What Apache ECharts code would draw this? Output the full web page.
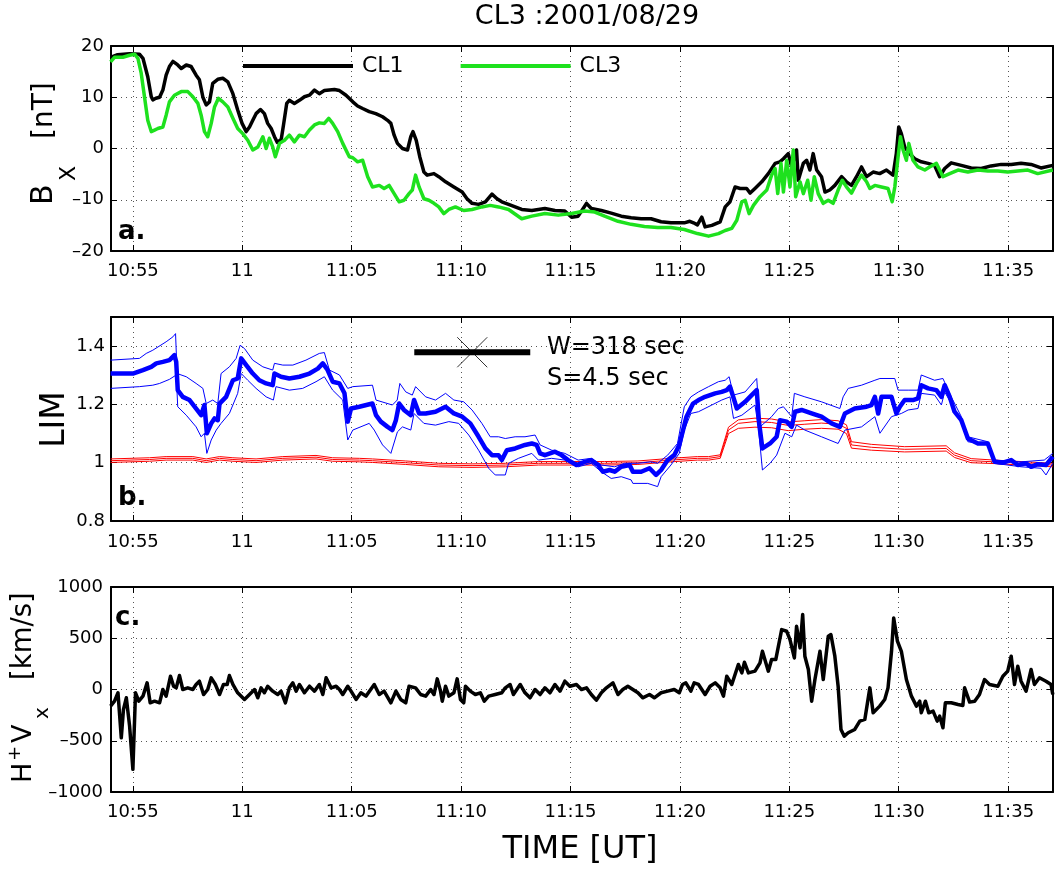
<!DOCTYPE html>
<html><head><meta charset="utf-8">
<script src="https://cdn.jsdelivr.net/npm/echarts@6/dist/echarts.min.js"></script>
<style>html,body{margin:0;padding:0;background:#fff}#c{width:1056px;height:870px}</style>
</head><body><div id="c"></div><script>
// time = minutes after 10:00 UT
const xTickMinutes = [55,60,65,70,75,80,85,90,95];
const bxTicks = [-20,-10,0,10,20];
const limTicks = [0.8,1.0,1.2,1.4];
const vxTicks = [-1000,-500,0,500,1000];
const legendNames = ['CL1','CL3'];

const cl1Bx = [[53.98,17.8],[54.3,18.3],[54.85,18.5],[55.3,18.4],[55.46,17.6],[55.68,14.0],[55.84,10.1],[55.91,9.5],[56.05,9.8],[56.22,10.0],[56.37,11.4],[56.52,14.3],[56.67,16.0],[56.83,17.0],[57.05,16.3],[57.21,15.6],[57.44,16.3],[57.66,16.0],[57.89,14.3],[58.04,13.4],[58.2,10.0],[58.35,8.5],[58.5,9.1],[58.65,12.7],[58.88,13.5],[59.11,13.7],[59.34,13.0],[59.57,10.7],[59.79,7.5],[59.99,4.9],[60.18,3.3],[60.33,4.2],[60.48,5.5],[60.63,6.8],[60.83,7.6],[61.01,6.8],[61.16,4.9],[61.32,3.9],[61.47,2.3],[61.6,1.2],[61.78,1.8],[61.88,4.5],[62.03,8.8],[62.15,9.4],[62.38,8.8],[62.61,9.4],[62.84,10.1],[63.07,10.4],[63.3,11.4],[63.52,10.7],[63.75,11.3],[63.98,11.4],[64.21,11.5],[64.44,11.3],[64.74,10.4],[65.05,9.1],[65.27,8.3],[65.5,7.8],[65.8,7.2],[66.1,6.8],[66.41,6.2],[66.64,5.5],[66.79,4.9],[66.94,2.6],[67.09,1.0],[67.32,0.0],[67.55,-0.3],[67.7,2.3],[67.8,3.3],[67.95,1.6],[68.11,-1.6],[68.3,-4.6],[68.45,-5.2],[68.76,-4.9],[68.98,-5.5],[69.29,-6.5],[69.67,-7.5],[70.05,-8.5],[70.27,-9.8],[70.5,-10.7],[70.8,-10.9],[71.11,-10.4],[71.41,-8.9],[71.64,-9.8],[71.86,-10.4],[72.17,-10.9],[72.47,-11.4],[72.77,-11.9],[73.23,-12.1],[73.83,-11.7],[74.29,-12.1],[74.74,-12.2],[75.05,-13.4],[75.35,-13.2],[75.58,-11.7],[75.73,-10.7],[75.95,-11.7],[76.41,-12.1],[76.86,-12.6],[77.32,-13.2],[77.77,-13.5],[78.23,-13.7],[78.68,-13.7],[79.14,-14.3],[79.59,-14.5],[80.2,-14.5],[80.45,-14.2],[80.62,-14.5],[80.8,-14.9],[81.0,-13.4],[81.15,-15.3],[81.46,-15.0],[81.84,-14.3],[82.07,-11.4],[82.29,-10.4],[82.52,-7.5],[82.75,-7.8],[83.05,-7.8],[83.21,-8.7],[83.43,-7.8],[83.74,-6.5],[84.04,-4.9],[84.35,-2.9],[84.57,-2.6],[84.73,-2.0],[84.95,-1.0],[85.11,-3.6],[85.33,-0.3],[85.41,-6.2],[85.64,-2.9],[85.79,-2.3],[85.94,-4.2],[86.09,-1.0],[86.25,-4.2],[86.47,-5.5],[86.63,-8.5],[86.85,-8.1],[87.08,-7.2],[87.39,-5.5],[87.61,-6.5],[87.84,-7.2],[88.07,-5.5],[88.3,-3.6],[88.53,-5.5],[88.83,-4.6],[89.13,-4.9],[89.44,-4.2],[89.74,-5.2],[89.89,-1.0],[90.0,4.2],[90.12,2.9],[90.27,0.3],[90.5,-1.0],[90.73,-2.0],[91.03,-2.6],[91.34,-2.9],[91.64,-3.3],[91.87,-5.5],[92.1,-3.9],[92.4,-2.8],[92.86,-3.3],[93.31,-3.8],[93.77,-3.9],[94.22,-3.4],[94.68,-3.1],[95.14,-3.1],[95.59,-2.9],[96.05,-3.1],[96.5,-3.8],[97.04,-3.3]];

const cl3Bx = [[53.98,16.9],[54.16,17.8],[54.54,17.8],[54.85,18.2],[55.08,18.4],[55.23,17.6],[55.38,14.7],[55.53,10.1],[55.68,5.5],[55.84,3.3],[55.99,3.6],[56.14,3.9],[56.37,4.2],[56.52,6.5],[56.67,9.1],[56.9,10.4],[57.21,11.1],[57.51,11.1],[57.74,10.1],[57.97,8.8],[58.12,6.5],[58.27,3.3],[58.42,2.3],[58.58,4.9],[58.73,8.1],[58.91,9.8],[59.11,9.1],[59.34,8.1],[59.57,5.9],[59.79,3.9],[60.02,2.9],[60.25,1.6],[60.48,-0.3],[60.71,0.3],[60.94,2.3],[61.09,0.0],[61.24,2.0],[61.39,0.3],[61.51,-1.6],[61.7,1.0],[61.93,1.6],[62.15,2.6],[62.38,1.3],[62.61,2.6],[62.84,2.3],[63.07,3.6],[63.3,4.6],[63.52,5.0],[63.75,4.9],[63.95,5.9],[64.13,4.9],[64.36,3.3],[64.59,1.0],[64.89,-1.6],[65.05,-1.8],[65.27,-2.6],[65.5,-2.3],[65.73,-5.5],[65.95,-7.5],[66.26,-7.2],[66.48,-7.8],[66.71,-7.2],[66.94,-8.8],[67.17,-10.4],[67.39,-10.1],[67.62,-8.8],[67.77,-8.1],[67.92,-5.2],[68.08,-7.5],[68.3,-9.8],[68.53,-10.1],[68.76,-10.7],[68.98,-11.4],[69.21,-12.7],[69.44,-11.9],[69.74,-11.4],[70.12,-12.1],[70.5,-11.9],[70.95,-11.4],[71.33,-11.1],[71.71,-11.4],[72.17,-11.9],[72.77,-13.7],[73.23,-13.2],[73.83,-12.7],[74.44,-13.0],[75.05,-12.7],[75.65,-12.2],[76.11,-12.4],[76.56,-13.2],[77.17,-14.2],[77.77,-14.8],[78.38,-15.2],[78.98,-15.4],[79.59,-15.4],[80.2,-15.8],[80.8,-16.6],[81.31,-17.1],[81.76,-16.6],[82.07,-16.0],[82.37,-15.6],[82.6,-14.0],[82.83,-10.4],[82.98,-10.1],[83.16,-12.7],[83.36,-11.1],[83.66,-9.4],[83.97,-8.1],[84.19,-5.2],[84.35,-3.9],[84.47,-8.8],[84.62,-2.9],[84.73,-8.5],[84.88,-2.3],[85.03,-7.5],[85.18,-0.3],[85.29,-9.4],[85.49,-6.5],[85.64,-8.8],[85.84,-6.2],[85.99,-10.1],[86.14,-5.5],[86.32,-8.8],[86.55,-10.7],[86.78,-10.1],[87.0,-10.7],[87.23,-8.1],[87.42,-6.2],[87.61,-7.5],[87.84,-8.7],[88.07,-6.8],[88.3,-5.2],[88.53,-6.5],[88.68,-7.8],[88.91,-7.2],[89.21,-7.5],[89.51,-7.8],[89.7,-10.4],[89.82,-7.5],[89.97,-1.6],[90.08,2.3],[90.2,-0.3],[90.35,-2.3],[90.46,1.0],[90.65,-2.3],[90.88,-3.6],[91.19,-4.2],[91.41,-3.6],[91.72,-2.9],[92.02,-5.5],[92.33,-4.9],[92.71,-4.2],[93.16,-4.6],[93.62,-4.2],[94.07,-4.4],[94.53,-4.4],[94.98,-4.6],[95.44,-4.4],[95.9,-4.2],[96.35,-4.9],[97.04,-4.2]];

const limBlue = [[53.98,1.306],[55,1.306],[55.46,1.318],[55.84,1.329],[56.07,1.341],[56.37,1.346],[56.67,1.352],[56.9,1.369],[56.98,1.346],[57.05,1.249],[57.28,1.226],[57.59,1.215],[57.89,1.186],[58.12,1.163],[58.27,1.198],[58.38,1.101],[58.58,1.135],[58.73,1.152],[58.88,1.146],[58.96,1.203],[59.26,1.226],[59.57,1.283],[59.79,1.289],[59.95,1.358],[60.18,1.335],[60.48,1.306],[60.78,1.283],[61.09,1.272],[61.39,1.266],[61.47,1.306],[61.77,1.295],[62.15,1.289],[62.61,1.295],[63.07,1.306],[63.45,1.323],[63.68,1.341],[63.9,1.318],[64.13,1.278],[64.44,1.272],[64.67,1.238],[64.82,1.141],[64.97,1.186],[65.35,1.192],[65.95,1.203],[66.11,1.163],[66.33,1.141],[66.64,1.123],[66.86,1.112],[67.02,1.146],[67.17,1.203],[67.39,1.181],[67.7,1.163],[67.85,1.215],[68.08,1.169],[68.38,1.169],[68.83,1.175],[69.29,1.192],[69.67,1.169],[70.05,1.158],[70.42,1.135],[70.8,1.089],[71.11,1.049],[71.41,1.026],[71.71,1.026],[71.86,1.009],[72.09,1.043],[72.47,1.049],[72.92,1.061],[73.23,1.066],[73.45,1.061],[73.61,1.032],[73.83,1.026],[74.29,1.038],[74.59,1.026],[74.89,1.009],[75.27,0.992],[75.65,1.003],[75.95,1.009],[76.26,0.992],[76.48,0.969],[76.79,0.975],[77.02,0.969],[77.32,0.986],[77.7,0.992],[77.85,0.969],[78.23,0.969],[78.61,0.981],[78.91,0.958],[79.14,0.975],[79.44,1.009],[79.74,1.026],[79.97,1.061],[80.3,1.158],[80.6,1.203],[80.85,1.215],[81.15,1.226],[81.61,1.238],[81.91,1.243],[82.14,1.249],[82.29,1.261],[82.6,1.186],[82.98,1.209],[83.28,1.232],[83.51,1.249],[83.62,1.135],[83.77,1.049],[84.12,1.066],[84.42,1.089],[84.57,1.146],[84.88,1.141],[85.11,1.123],[85.26,1.175],[85.56,1.181],[86.02,1.169],[86.47,1.158],[86.93,1.135],[87.31,1.123],[87.54,1.169],[87.99,1.186],[88.53,1.192],[88.75,1.198],[88.91,1.226],[89.06,1.169],[89.21,1.226],[89.67,1.226],[89.89,1.169],[90.05,1.192],[90.27,1.215],[90.65,1.215],[90.88,1.221],[91.03,1.266],[91.34,1.255],[91.72,1.249],[91.95,1.226],[92.1,1.266],[92.33,1.226],[92.55,1.175],[92.86,1.146],[93.16,1.083],[93.62,1.066],[94.07,1.066],[94.38,1.003],[94.76,1.0],[95.14,1.009],[95.44,0.992],[95.82,0.998],[96.05,0.986],[96.35,0.995],[96.73,0.992],[97.04,1.021]];

const limBlueUpper = [[53.98,1.352],[55.3,1.358],[55.61,1.375],[55.91,1.386],[56.52,1.415],[56.83,1.432],[56.95,1.443],[57.02,1.306],[57.44,1.295],[57.89,1.272],[58.2,1.255],[58.35,1.203],[58.65,1.215],[58.88,1.203],[59.03,1.306],[59.41,1.329],[59.72,1.358],[59.9,1.403],[60.1,1.392],[60.48,1.352],[60.94,1.329],[61.39,1.318],[61.47,1.341],[61.85,1.335],[62.31,1.335],[62.91,1.352],[63.52,1.375],[63.75,1.378],[63.98,1.318],[64.44,1.301],[64.82,1.255],[65.05,1.261],[65.95,1.266],[66.11,1.215],[66.86,1.198],[67.08,1.215],[67.2,1.272],[67.47,1.243],[67.77,1.232],[67.92,1.261],[68.38,1.226],[68.83,1.215],[69.29,1.238],[69.67,1.215],[70.12,1.209],[70.5,1.181],[70.95,1.135],[71.33,1.089],[71.71,1.089],[72.02,1.083],[72.47,1.089],[72.92,1.089],[73.38,1.095],[73.61,1.061],[74.14,1.043],[74.74,1.032],[75.35,1.009],[75.95,1.015],[76.41,0.992],[77.02,0.986],[77.47,0.998],[78.08,0.998],[78.68,1.003],[78.98,0.998],[79.44,1.026],[79.89,1.066],[80.2,1.192],[80.5,1.226],[80.85,1.243],[81.31,1.261],[81.76,1.278],[82.07,1.283],[82.25,1.295],[82.45,1.232],[82.98,1.243],[83.51,1.289],[83.66,1.123],[84.19,1.158],[84.5,1.186],[84.73,1.192],[85.11,1.158],[85.23,1.238],[85.71,1.226],[86.47,1.209],[87.31,1.186],[87.46,1.226],[87.69,1.255],[88.3,1.266],[88.91,1.283],[89.14,1.289],[89.82,1.289],[89.97,1.249],[90.43,1.249],[90.88,1.249],[91.03,1.301],[91.64,1.283],[92.02,1.289],[92.4,1.226],[92.86,1.158],[93.16,1.089],[94.07,1.072],[94.38,1.009],[95.59,1.003],[96.65,1.009],[97.04,1.032]];

const limBlueLower = [[53.98,1.255],[55.3,1.261],[55.91,1.266],[56.22,1.272],[56.67,1.286],[56.98,1.301],[57.05,1.192],[57.44,1.163],[57.89,1.123],[58.12,1.089],[58.27,1.101],[58.38,1.032],[58.58,1.078],[58.81,1.112],[59.03,1.135],[59.41,1.169],[59.79,1.238],[59.95,1.306],[60.25,1.283],[60.63,1.255],[61.09,1.226],[61.42,1.215],[61.54,1.261],[62.15,1.249],[62.76,1.255],[63.37,1.278],[63.75,1.295],[64.13,1.249],[64.59,1.215],[64.82,1.078],[65.05,1.112],[65.8,1.135],[66.03,1.112],[66.41,1.061],[66.79,1.032],[67.09,1.106],[67.32,1.123],[67.7,1.112],[67.85,1.169],[68.3,1.135],[68.83,1.129],[69.44,1.141],[69.89,1.135],[70.35,1.095],[70.8,1.043],[71.26,0.981],[71.56,0.958],[72.02,0.958],[72.17,0.998],[72.62,1.015],[73.23,1.032],[73.53,1.009],[74.14,1.015],[74.74,1.009],[75.35,0.986],[75.95,0.998],[76.41,0.969],[76.86,0.946],[77.32,0.952],[77.77,0.941],[77.85,0.929],[78.53,0.929],[78.98,0.918],[79.14,0.952],[79.59,0.992],[79.97,1.032],[80.2,1.112],[80.5,1.169],[80.85,1.175],[81.46,1.198],[81.91,1.215],[82.29,1.226],[82.45,1.152],[82.83,1.163],[83.43,1.198],[83.59,1.118],[83.77,0.975],[84.12,0.998],[84.42,1.026],[84.8,1.101],[85.11,1.089],[85.33,1.129],[85.71,1.112],[86.47,1.089],[87.23,1.066],[87.54,1.112],[88.3,1.123],[88.91,1.158],[89.14,1.101],[89.67,1.158],[90.12,1.169],[90.43,1.181],[90.88,1.186],[91.03,1.238],[91.64,1.232],[91.95,1.198],[92.1,1.243],[92.4,1.203],[92.86,1.135],[93.16,1.072],[94.07,1.061],[94.38,0.998],[95.59,0.986],[96.5,0.981],[96.73,0.958],[97.04,0.998]];

const redTime = [53.98,55.76,56.52,57.74,58.35,58.96,59.57,60.63,61.85,63.37,64.13,65.35,65.95,67.47,68.98,70.5,72.02,73.53,75.05,76.56,78.08,79.59,80.8,81.31,81.84,82.22,82.67,83.43,84.19,84.95,85.71,86.47,87.23,87.61,87.84,88.75,90.27,92.17,92.55,93.31,94.38,95.59,97.04];
const limRedMid = [1.007,1.011,1.015,1.015,1.007,1.015,1.011,1.007,1.015,1.019,1.011,1.009,1.007,1.0,0.992,0.990,0.992,0.998,0.998,0.998,1.0,1.009,1.015,1.015,1.021,1.112,1.135,1.141,1.138,1.128,1.132,1.136,1.132,1.118,1.061,1.053,1.046,1.049,1.026,1.007,1.003,0.998,0.992];
const limRedUpper = [1.013,1.017,1.021,1.021,1.013,1.021,1.017,1.013,1.021,1.025,1.017,1.015,1.013,1.006,0.998,0.996,0.998,1.004,1.004,1.004,1.006,1.015,1.021,1.021,1.027,1.122,1.147,1.153,1.150,1.140,1.144,1.148,1.144,1.130,1.072,1.063,1.055,1.058,1.034,1.014,1.009,1.004,0.998];
const limRedLower = [1.001,1.005,1.009,1.009,1.001,1.009,1.005,1.001,1.009,1.013,1.005,1.003,1.001,0.994,0.986,0.984,0.986,0.992,0.992,0.992,0.994,1.003,1.009,1.009,1.015,1.100,1.118,1.122,1.120,1.110,1.115,1.118,1.115,1.100,1.050,1.043,1.037,1.040,1.018,1.000,0.997,0.992,0.986];

const hVx = [[53.98,-162],[54.16,-114],[54.32,-32],[54.47,-471],[54.57,-195],[54.7,-81],[54.85,-357],[55.0,-779],[55.12,-32],[55.27,-114],[55.46,-65],[55.65,65],[55.79,-130],[55.99,-114],[56.22,-130],[56.37,0],[56.52,-65],[56.72,130],[56.86,32],[56.98,16],[57.13,136],[57.28,0],[57.51,16],[57.74,0],[57.89,49],[58.04,81],[58.23,-49],[58.42,0],[58.58,114],[58.77,49],[58.96,-49],[59.14,49],[59.31,49],[59.41,136],[59.57,49],[59.79,-32],[60.1,-97],[60.33,-49],[60.56,0],[60.71,-81],[60.86,16],[61.01,-32],[61.16,32],[61.39,-16],[61.62,-49],[61.77,-16],[61.97,-130],[62.15,16],[62.31,65],[62.46,-16],[62.61,49],[62.84,-32],[63.07,32],[63.3,-16],[63.52,49],[63.68,-49],[63.83,114],[64.06,16],[64.29,32],[64.44,0],[64.59,-49],[64.82,32],[64.97,-16],[65.2,-97],[65.42,-32],[65.65,-65],[66.03,49],[66.26,-49],[66.48,-16],[66.79,-130],[67.02,-16],[67.24,-97],[67.47,-130],[67.62,32],[67.92,16],[68.15,-49],[68.38,-65],[68.61,0],[68.76,-49],[68.91,104],[69.06,-16],[69.14,-114],[69.29,32],[69.44,-65],[69.67,-32],[69.82,104],[69.97,-97],[70.12,-130],[70.2,32],[70.42,-16],[70.65,-49],[70.88,-32],[71.06,-114],[71.26,-65],[71.56,-49],[71.86,-32],[72.02,16],[72.24,49],[72.39,-49],[72.7,49],[72.92,-32],[73.15,-81],[73.38,0],[73.61,-49],[73.83,16],[74.06,-32],[74.29,49],[74.52,-16],[74.74,81],[74.97,32],[75.27,49],[75.5,0],[75.73,16],[75.95,-49],[76.18,-104],[76.41,-32],[76.64,16],[76.94,65],[77.17,-49],[77.39,0],[77.62,32],[77.85,0],[78.08,-32],[78.3,-81],[78.61,-49],[78.83,-81],[79.14,-32],[79.44,-16],[79.74,0],[79.97,-32],[80.12,49],[80.27,65],[80.5,-16],[80.65,65],[80.85,49],[81.15,-49],[81.38,32],[81.61,65],[81.84,16],[81.99,-65],[82.14,130],[82.37,49],[82.67,244],[82.83,162],[82.95,266],[83.13,162],[83.43,179],[83.66,260],[83.77,373],[84.04,179],[84.19,292],[84.38,292],[84.65,584],[84.88,568],[85.03,487],[85.23,308],[85.33,617],[85.49,406],[85.61,731],[85.71,325],[85.87,195],[86.02,-114],[86.17,97],[86.4,373],[86.55,97],[86.78,520],[86.9,536],[87.08,325],[87.23,32],[87.36,-390],[87.51,-455],[87.69,-422],[87.99,-390],[88.22,-308],[88.45,-292],[88.68,16],[88.83,-227],[89.13,-162],[89.36,-97],[89.51,16],[89.67,373],[89.77,698],[89.94,471],[90.12,373],[90.35,97],[90.58,-65],[90.81,-162],[90.96,-114],[91.03,-227],[91.22,-114],[91.37,-227],[91.57,-211],[91.76,-308],[91.87,-260],[92.02,-373],[92.13,-130],[92.4,-130],[92.71,-146],[92.93,-156],[93.01,16],[93.24,-123],[93.47,-114],[93.69,-49],[93.92,97],[94.15,49],[94.53,32],[94.76,130],[94.98,179],[95.14,325],[95.29,49],[95.44,227],[95.59,81],[95.82,-16],[96.05,195],[96.2,49],[96.43,114],[96.73,81],[96.96,49],[97.04,-49]];

// analysis window annotation (panel b)
const windowSec = 318;
const stepSec = 4.5;
const windowCenter = 70.51;   // minutes after 10:00
const windowLevel = 1.379;

const FONT = 'DejaVu Sans';
const zip = (t, v) => t.map((x, i) => [x, v[i]]);

function fmtTime(v) {
  const r = Math.round(v);
  if (Math.abs(v - r) > 1e-6 || xTickMinutes.indexOf(r) < 0) return '';
  const h = 10 + Math.floor(r / 60), m = r % 60;
  return m === 0 ? String(h) : h + ':' + (m < 10 ? '0' : '') + m;
}
const fmtInt = v => (v < 0 ? '\u2013' + Math.abs(v) : String(v));
const fmtLim = v => {
  if (!limTicks.some(t => Math.abs(t - v) < 1e-6)) return '';
  return Math.abs(v - 1) < 1e-6 ? '1' : v.toFixed(1);
};

const gridTops = [46, 317, 587], gridHeights = [205, 204, 205];
const grids = gridTops.map((t, i) => ({left: 111, width: 944, top: t, height: gridHeights[i]}));

const axLine = {onZero: false, lineStyle: {color: '#000', width: 2}};
const axTick = {inside: true, length: 6, lineStyle: {color: '#000', width: 1}};
const gridLine = {show: true, lineStyle: {color: '#555', type: [1, 4], width: 1}};

const xAxis = [], yAxis = [];
const yCfg = [
  {min: -20, max: 20, interval: 10, fmt: fmtInt, margin: 7},
  {min: 0.8, max: 1.5, interval: 0.2, fmt: fmtLim, margin: 6},
  {min: -1000, max: 1000, interval: 500, fmt: fmtInt, margin: 8}
];
const xMargins = [11, 12, 11];
for (let i = 0; i < 3; i++) {
  xAxis.push({type: 'value', gridIndex: i, position: 'bottom', min: 54, max: 97.05, minInterval: 5, maxInterval: 5,
    axisLine: axLine, axisTick: axTick,
    axisLabel: {formatter: fmtTime, color: '#000', fontFamily: FONT, fontSize: 18, margin: xMargins[i]},
    splitLine: gridLine});
  xAxis.push({type: 'value', gridIndex: i, position: 'top', min: 54, max: 97.05, minInterval: 5, maxInterval: 5,
    axisLine: axLine, axisTick: axTick, axisLabel: {show: false}, splitLine: {show: false}});
  const c = yCfg[i];
  yAxis.push({type: 'value', gridIndex: i, position: 'left', min: c.min, max: c.max, interval: c.interval,
    axisLine: axLine, axisTick: axTick,
    axisLabel: {formatter: c.fmt, color: '#000', fontFamily: FONT, fontSize: 18, margin: c.margin},
    splitLine: gridLine});
  yAxis.push({type: 'value', gridIndex: i, position: 'right', min: c.min, max: c.max, interval: c.interval,
    axisLine: axLine, axisTick: axTick, axisLabel: {show: false}, splitLine: {show: false}});
}

function line(name, data, xi, color, width, z) {
  return {type: 'line', name, data, xAxisIndex: xi, yAxisIndex: xi, symbol: 'none', showSymbol: false,
    color, lineStyle: {color, width, join: 'round'}, z: z || 2, silent: true, animation: false};
}

const halfWin = windowSec / 120;
const series = [
  line('CL1', cl1Bx, 0, '#000000', 3.5, 2),
  line('CL3', cl3Bx, 0, '#1ee11e', 3.5, 3),
  line('redUp', zip(redTime, limRedUpper), 2, '#ff0000', 1, 2),
  line('redMid', zip(redTime, limRedMid), 2, '#ff0000', 1, 2),
  line('redLo', zip(redTime, limRedLower), 2, '#ff0000', 1, 2),
  line('blueUp', limBlueUpper, 2, '#0000ff', 1, 3),
  line('blueLo', limBlueLower, 2, '#0000ff', 1, 3),
  line('blue', limBlue, 2, '#0000ff', 4.5, 4),
  line('window', [[windowCenter - halfWin, windowLevel], [windowCenter + halfWin, windowLevel]], 2, '#000000', 6, 5),
  {type: 'scatter', name: 'center', xAxisIndex: 2, yAxisIndex: 2, data: [[windowCenter, windowLevel]],
    symbol: 'path://M0,0L10,10M10,0L0,10', symbolSize: 30, silent: true, z: 6,
    itemStyle: {color: 'rgba(0,0,0,0)', borderColor: '#000', borderWidth: 1}},
  line('HVx', hVx, 4, '#000000', 3.5, 2)
];

const txt = (x, y, text, font, align, extra) => Object.assign({type: 'text', x, y, silent: true,
  style: {text, font, fill: '#000', textAlign: align || 'left', textVerticalAlign: 'middle', align: align || 'left', verticalAlign: 'middle'}}, extra || {});

const graphic = [
  txt(587, 17, 'CL3 :2001/08/29', '27px "DejaVu Sans"', 'center'),
  txt(118, 232, 'a.', 'bold 26px "DejaVu Sans"'),
  txt(118, 498, 'b.', 'bold 26px "DejaVu Sans"'),
  txt(115, 618, 'c.', 'bold 26px "DejaVu Sans"'),
  txt(547, 348, 'W=' + windowSec + ' sec', '24px "DejaVu Sans"'),
  txt(547, 379, 'S=' + stepSec + ' sec', '24px "DejaVu Sans"'),
  txt(580, 850, 'TIME [UT]', '32px "DejaVu Sans"', 'center'),
  txt(55.6, 419.5, 'LIM', '33px "DejaVu Sans"', 'center', {rotation: Math.PI / 2}),
  {type: 'group', x: 55, y: 205, rotation: Math.PI / 2, silent: true, children: [
    txt(0, -10.5, 'B', '30px "DejaVu Sans"'),
    txt(24, 14.3, 'X', '22px "DejaVu Sans"'),
    txt(66, -9.8, '[nT]', '28px "DejaVu Sans"')
  ]},
  {type: 'group', x: 33, y: 783, rotation: Math.PI / 2, silent: true, children: [
    txt(0, -9.5, 'H', '27px "DejaVu Sans"'),
    txt(22, -18, '+', '18px "DejaVu Sans"'),
    txt(40, -9.5, 'V', '27px "DejaVu Sans"'),
    txt(64, 10, 'x', '20px "DejaVu Sans"'),
    txt(103, -9.5, '[km/s]', '27.5px "DejaVu Sans"')
  ]}
];

const chart = echarts.init(document.getElementById('c'), null, {renderer: 'canvas'});
chart.setOption({
  animation: false,
  backgroundColor: '#fff',
  grid: grids,
  xAxis, yAxis, series, graphic,
  legend: {data: legendNames, left: 243, top: 55, padding: 0, icon: 'rect', itemWidth: 110, itemHeight: 4,
    itemGap: 57, selectedMode: false, itemStyle: {borderWidth: 0},
    textStyle: {fontFamily: FONT, fontSize: 22, color: '#000', padding: [0, 0, 0, 4]}}
});
</script></body></html>
